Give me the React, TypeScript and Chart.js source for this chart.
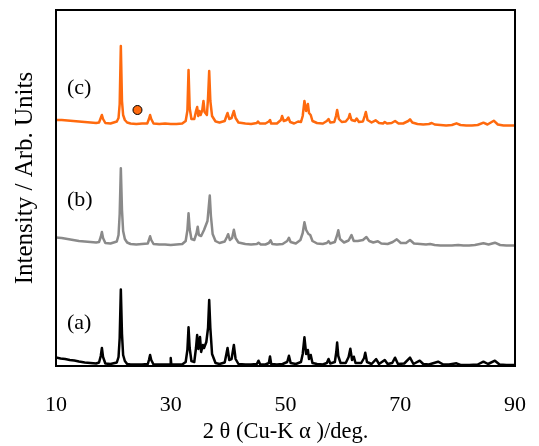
import React, { useEffect, useRef } from "react";
import { Chart, registerables } from "chart.js";

Chart.register(...registerables);

// ---- data (2θ in degrees, intensity in arbitrary units) ----
const X_MIN = 10;
const X_MAX = 90;
const X_STEP = 20;
const Y_MAX = 356;

// (a) black pattern
const seriesA: [number, number][] = [
  [10, 8.5], [10.8, 7.5], [11.6, 7], [12.4, 6], [13.2, 5.5], [14, 4.5], [15, 3.5], [16, 3], [17, 2.5],
  [17.5, 3.5], [17.8, 10], [18.0, 18], [18.2, 9], [18.6, 2.5],
  [19.5, 2], [20.6, 3.5], [20.9, 9], [21.1, 28], [21.3, 76.5], [21.5, 32], [21.7, 11], [22.0, 5], [22.4, 2],
  [23, 1.5], [24, 1.5], [25, 1.5], [26.0, 2], [26.2, 6], [26.4, 11], [26.6, 6], [27, 1.5],
  [28, 1.5], [29, 1.5], [29.9, 1.5], [30.0, 8], [30.1, 1.5], [31, 1.5], [32, 1.5], [32.6, 4], [32.9, 16], [33.1, 38.7], [33.3, 18], [33.6, 5],
  [34.1, 4], [34.4, 18], [34.6, 31], [34.8, 17], [35.0, 24], [35.1, 29], [35.3, 14], [35.6, 21], [35.8, 18], [36.2, 24], [36.5, 38], [36.7, 66], [36.9, 38], [37.2, 12], [37.8, 3],
  [38.5, 2], [39.4, 3.5], [39.7, 12], [39.9, 18], [40.2, 6], [40.6, 7], [41.0, 21], [41.3, 7], [41.8, 2],
  [43, 1.5], [44, 1.5], [45.0, 2], [45.3, 5.3], [45.6, 1.5], [46.5, 1.5], [47.1, 3], [47.3, 9.5], [47.5, 2],
  [48.5, 1.5], [49.5, 2], [50.3, 4], [50.6, 10.2], [50.9, 3], [51.8, 2], [52.7, 4], [53.0, 12], [53.3, 28.7], [53.6, 12], [53.9, 16], [54.1, 7], [54.4, 11], [54.7, 3], [55.5, 2],
  [56.5, 1.5], [57.2, 3], [57.5, 7], [57.8, 2.5], [58.6, 4], [58.85, 14], [59.0, 23.5], [59.2, 10], [59.6, 3], [60.5, 3], [61.0, 9], [61.3, 17.2], [61.6, 6], [61.9, 9.3], [62.2, 3],
  [63.2, 3], [63.7, 8], [63.9, 13.3], [64.2, 4], [65, 2], [65.8, 6.8], [66.3, 2], [67.3, 6], [67.8, 2], [68.6, 3], [69.1, 8.3], [69.6, 2], [70.7, 2.5], [71.7, 8.3], [72.3, 2],
  [73.4, 5.3], [74, 2], [75, 1.5], [76.6, 4.3], [77.5, 1.5], [78.5, 1.5], [79.8, 2.7], [80.5, 1], [82, 1], [83.5, 1.5], [84.5, 4.3], [85.3, 2], [86.5, 5.3], [87.3, 1.5], [88.5, 1], [90, 1],
];

// (b) gray pattern
const seriesB: [number, number][] = [
  [10, 128.5], [11, 128], [12, 127], [13, 126], [14, 125], [15, 124.5], [16, 124], [17, 123.5],
  [17.5, 124], [17.8, 129], [18.0, 134], [18.2, 128], [18.6, 123],
  [19.5, 122.5], [20.6, 124.5], [20.9, 131], [21.1, 152], [21.3, 197.7], [21.5, 156], [21.7, 135], [22.0, 127], [22.4, 123.5],
  [23, 122], [24, 121.5], [25, 122], [26, 122.5], [26.2, 126], [26.4, 129.7], [26.6, 126], [27, 122],
  [28, 121.5], [29, 121.5], [30, 121], [31, 121.5], [32, 122], [32.6, 125], [32.9, 136], [33.1, 152.7], [33.3, 137], [33.6, 127],
  [34.1, 126], [34.5, 133], [34.7, 139.3], [34.9, 131], [35.3, 130], [35.8, 136], [36.4, 145], [36.8, 170.5], [37.0, 150], [37.3, 132], [37.8, 125],
  [38.5, 123], [39.4, 124.5], [39.8, 129], [40.0, 131.8], [40.3, 126], [40.7, 128], [41.0, 136.3], [41.3, 128], [41.8, 123.5],
  [43, 122], [44, 121.5], [45.0, 122], [45.3, 123.3], [45.7, 121.5], [46.5, 121.5], [47.1, 123], [47.4, 125.7], [47.7, 122],
  [48.5, 121.5], [49.5, 122], [50.3, 125], [50.6, 128.2], [50.9, 124], [51.8, 122.5], [52.6, 126], [53.0, 133], [53.3, 143.8], [53.6, 136], [54.0, 132], [54.3, 131], [54.7, 125], [55.5, 122.5],
  [56.5, 122], [57.2, 123], [57.5, 124.8], [57.8, 122.5], [58.6, 124], [59.0, 131], [59.2, 135.7], [59.5, 127], [60.2, 123.5], [61.0, 125.5], [61.5, 131], [61.9, 125], [62.6, 125],
  [63.5, 126], [64.1, 129], [64.6, 125], [65.3, 123.5], [66.1, 124.7], [66.7, 122.5], [67.8, 122], [68.7, 124], [69.4, 126.7], [70.1, 123], [71.0, 123], [71.7, 126], [72.4, 122.5],
  [73.5, 122], [74.5, 121.5], [75.2, 122], [76, 121], [77, 120.5], [78, 120.5], [79, 120.5], [80.1, 121], [81, 120.5], [82, 120.5], [83, 121], [84.5, 122.7], [85.4, 121.5], [86.5, 123.3], [87.4, 121], [88.5, 120.5], [90, 120.5],
];

// (c) orange pattern
const seriesC: [number, number][] = [
  [10, 246], [11, 246], [12, 245.5], [13, 245], [14, 244.5], [15, 244], [16, 243.5], [17, 243],
  [17.5, 243.5], [17.8, 248], [18.0, 251], [18.2, 247], [18.6, 243],
  [19.5, 242.5], [20.6, 244.5], [20.9, 248], [21.1, 262], [21.3, 320], [21.5, 265], [21.7, 251], [22.0, 246], [22.4, 243.5],
  [23, 242.5], [24, 242], [25, 242.5], [25.9, 242.5], [26.2, 247], [26.4, 251], [26.6, 247], [27, 242.5],
  [28, 242], [29, 242.5], [30, 242], [31, 242], [32, 242.5], [32.6, 245], [32.9, 255], [33.1, 296], [33.3, 258], [33.6, 247],
  [34.1, 247], [34.4, 255], [34.6, 259], [34.8, 250], [35.0, 255], [35.2, 251], [35.5, 256], [35.7, 265], [35.9, 254], [36.3, 251], [36.5, 268], [36.7, 295], [36.9, 265], [37.2, 250], [37.8, 244.5],
  [38.5, 243.5], [39.4, 245], [39.7, 250], [39.9, 253], [40.2, 247], [40.6, 248], [41.0, 255], [41.3, 248], [41.8, 243.5],
  [43, 242.5], [44, 242], [45.0, 243], [45.2, 244.5], [45.5, 242.5], [46.5, 242.5], [47.1, 244.5], [47.3, 246], [47.5, 242.5],
  [48.5, 242.5], [49.2, 246], [49.4, 250], [49.7, 245], [50.2, 246], [50.5, 248.5], [50.8, 244],
  [51.5, 242.5], [52.2, 244.5], [52.7, 244], [53.0, 250], [53.3, 265], [53.6, 255], [53.9, 262], [54.1, 253], [54.4, 251], [54.7, 245], [55.5, 243],
  [56.5, 242.5], [57.2, 245], [57.5, 247], [57.8, 243.5], [58.5, 244], [58.8, 250], [59.0, 256], [59.3, 247], [59.8, 244],
  [60.5, 244.5], [61.0, 248], [61.2, 252], [61.5, 246], [62.1, 245], [62.4, 247.5], [62.8, 244], [63.5, 244.5], [63.8, 250], [64.0, 254], [64.3, 246], [65, 243.5],
  [65.7, 245.7], [66.3, 243], [67.0, 242.5], [67.3, 244], [67.7, 242.5], [68.5, 243], [69.1, 245], [69.7, 242.5], [70.5, 242.5], [71.4, 245], [71.7, 246.7], [72.1, 243.5],
  [73, 242], [74, 241.5], [75, 242], [75.5, 243], [76, 241.5], [77, 241], [78, 240.5], [79, 241], [79.8, 242.7], [80.5, 241], [81.5, 240.5], [82.5, 240.5], [83.5, 241], [84.5, 243.3], [85.2, 241.5], [86.3, 245.3], [87, 241.5], [88, 240.5], [89, 240.5], [90, 240.5],
];

// impurity marker on (c)
const markerC: [number, number][] = [[24.2, 256]];

// sample labels and where they sit (data units)
const sampleLabels = ["(a)", "(b)", "(c)"];
const sampleLabelX = [11.9, 11.9, 11.9];
const sampleLabelY = [43, 165.5, 277.5];

const X_TITLE = "2 θ (Cu-K α )/deg.";
const Y_TITLE = "Intensity / Arb. Units";

const ORANGE = "#FF6A0E";
const GRAY = "#8A8A8A";
const BLACK = "#000000";
const SERIF = '"Liberation Serif", "Times New Roman", serif';

const toPts = (arr: [number, number][]) => arr.map(([x, y]) => ({ x, y }));

const framePlugin = {
  id: "frameAndLabels",
  afterDraw(chart: any) {
    const { ctx, chartArea, scales } = chart;
    const { left, top, right, bottom } = chartArea;
    ctx.save();
    ctx.strokeStyle = "#000";
    ctx.lineWidth = 2;
    ctx.strokeRect(left, top, right - left, bottom - top);

    ctx.fillStyle = "#000";
    ctx.font = `22px ${SERIF}`;
    ctx.textAlign = "left";
    ctx.textBaseline = "middle";
    sampleLabels.forEach((t, i) => {
      ctx.fillText(t, scales.x.getPixelForValue(sampleLabelX[i]), scales.y.getPixelForValue(sampleLabelY[i]));
    });

    ctx.font = `25px ${SERIF}`;
    ctx.textAlign = "center";
    ctx.translate(25, (top + bottom) / 2 - 10);
    ctx.rotate(-Math.PI / 2);
    ctx.fillText(Y_TITLE, 0, 0);
    ctx.restore();
  },
};

export default function App() {
  const ref = useRef<HTMLCanvasElement | null>(null);

  useEffect(() => {
    if (!ref.current) return;
    const lineDs = (label: string, data: [number, number][], color: string) => ({
      label,
      data: toPts(data),
      showLine: true,
      borderColor: color,
      backgroundColor: color,
      borderWidth: 2.5,
      pointRadius: 0,
      tension: 0,
      borderJoinStyle: "round",
    });
    const chart = new Chart(ref.current, {
      type: "scatter",
      data: {
        datasets: [
          lineDs("(a)", seriesA, BLACK) as any,
          lineDs("(b)", seriesB, GRAY) as any,
          lineDs("(c)", seriesC, ORANGE) as any,
          {
            label: "marker",
            data: toPts(markerC),
            showLine: false,
            pointRadius: 4.5,
            pointBackgroundColor: ORANGE,
            pointBorderColor: "#000",
            pointBorderWidth: 1,
          } as any,
        ],
      },
      options: {
        animation: false,
        responsive: false,
        devicePixelRatio: 1,
        layout: { padding: { top: 10, right: 24, left: 0, bottom: 0 } },
        plugins: {
          legend: { display: false },
          tooltip: { enabled: false },
          title: { display: false },
        },
        scales: {
          x: {
            type: "linear",
            min: X_MIN,
            max: X_MAX,
            grid: {
              display: true,
              drawOnChartArea: false,
              drawTicks: true,
              tickLength: 26,
              color: "rgba(0,0,0,0)",
            },
            border: { display: false },
            ticks: {
              stepSize: X_STEP,
              color: "#000",
              padding: 0,
              maxRotation: 0,
              autoSkip: false,
              font: { family: SERIF, size: 22 },
            },
            title: {
              display: true,
              text: X_TITLE,
              color: "#000",
              font: { family: SERIF, size: 22.5 },
              padding: { top: 0, bottom: 0 },
            },
            afterFit: (s: any) => {
              s.height = 80;
            },
          },
          y: {
            type: "linear",
            min: 0,
            max: Y_MAX,
            grid: { display: false, drawTicks: false },
            border: { display: false },
            ticks: { display: false },
            title: { display: false },
            afterFit: (s: any) => {
              s.width = 56;
            },
          },
        },
      },
      plugins: [framePlugin],
    });
    return () => chart.destroy();
  }, []);

  return (
    <div style={{ position: "absolute", left: 0, top: 0, width: 539, height: 446, background: "#fff" }}>
      <canvas ref={ref} width={539} height={446} style={{ width: 539, height: 446, display: "block" }} />
    </div>
  );
}
